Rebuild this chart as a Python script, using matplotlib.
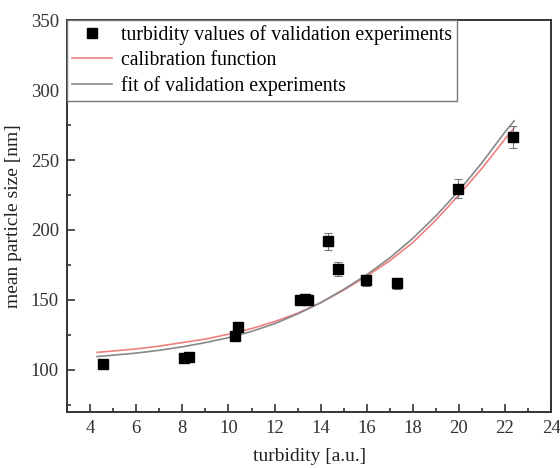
import numpy as np
import matplotlib
matplotlib.use("Agg")
import matplotlib.pyplot as plt
from matplotlib.ticker import MultipleLocator

plt.rcParams['font.family'] = ['Liberation Serif', 'DejaVu Serif']

# validation experiments (turbidity, mean particle size, error)
turb = [4.55, 8.05, 8.3, 10.3, 10.4, 13.1, 13.3, 13.45, 14.3, 14.75, 15.95, 17.3, 19.95, 22.35]
size = [104, 108.5, 109, 124, 131, 150, 151, 150, 192, 172, 164, 162, 229.5, 266.5]
err = [2, 2, 2, 2.5, 2.5, 3, 3, 3, 6, 5, 4, 4, 7, 8]

# curves
curve_x = [4.3, 5, 6, 7, 8, 9, 10, 11, 12, 13, 14, 15, 16, 17, 18, 19, 20, 21, 22, 22.4]
calib_y = [112.5, 113.5, 115, 117, 119.5, 122, 125.5, 129.5, 134.5, 140.5, 148, 157, 167,
           178, 191, 207, 225, 244, 265, 273]
fit_y = [109.5, 110.5, 112, 114, 116.5, 119.5, 123, 127.5, 133, 140, 148, 157.5, 168,
         180, 194, 210, 228, 248, 270, 278]

fig = plt.figure(figsize=(5.6, 4.68), dpi=100)
ax = fig.add_axes([0.12, 0.12, 0.864, 0.837])

pts = ax.errorbar(turb, size, yerr=err, fmt='s', color='black', ms=7, ecolor='#777777',
                  elinewidth=0.8, capsize=3, capthick=0.8, zorder=3)
l1, = ax.plot(curve_x, calib_y, color='#f08080', lw=1.2, zorder=2)
l2, = ax.plot(curve_x, fit_y, color='#888888', lw=1.2, zorder=2)

ax.set_xlim(3, 24)
ax.set_ylim(70, 350)
ax.xaxis.set_major_locator(MultipleLocator(2))
ax.xaxis.set_minor_locator(MultipleLocator(1))
ax.yaxis.set_major_locator(MultipleLocator(50))
ax.yaxis.set_minor_locator(MultipleLocator(25))
ax.tick_params(which='both', direction='in', top=False, right=False,
               labelsize=13.5, colors='#333333', width=1.2)
ax.tick_params(which='major', length=6, pad=6)
ax.tick_params(which='minor', length=3)
for s in ax.spines.values():
    s.set_linewidth(1.4)
    s.set_color('#333333')

ax.set_xlabel('turbidity [a.u.]', fontsize=14, color='#222222', labelpad=8)
ax.set_ylabel('mean particle size [nm]', fontsize=14, color='#222222', labelpad=6)

leg = ax.legend([pts[0], l1, l2],
                ['turbidity values of validation experiments', 'calibration function',
                 'fit of validation experiments'],
                loc='upper left', borderaxespad=0, fontsize=14.2, fancybox=False,
                framealpha=1, edgecolor='#777777', handlelength=2.0,
                labelspacing=0.3, borderpad=0.25, handletextpad=0.5)
leg.get_frame().set_linewidth(1.0)

fig.savefig('out.png', dpi=100)
